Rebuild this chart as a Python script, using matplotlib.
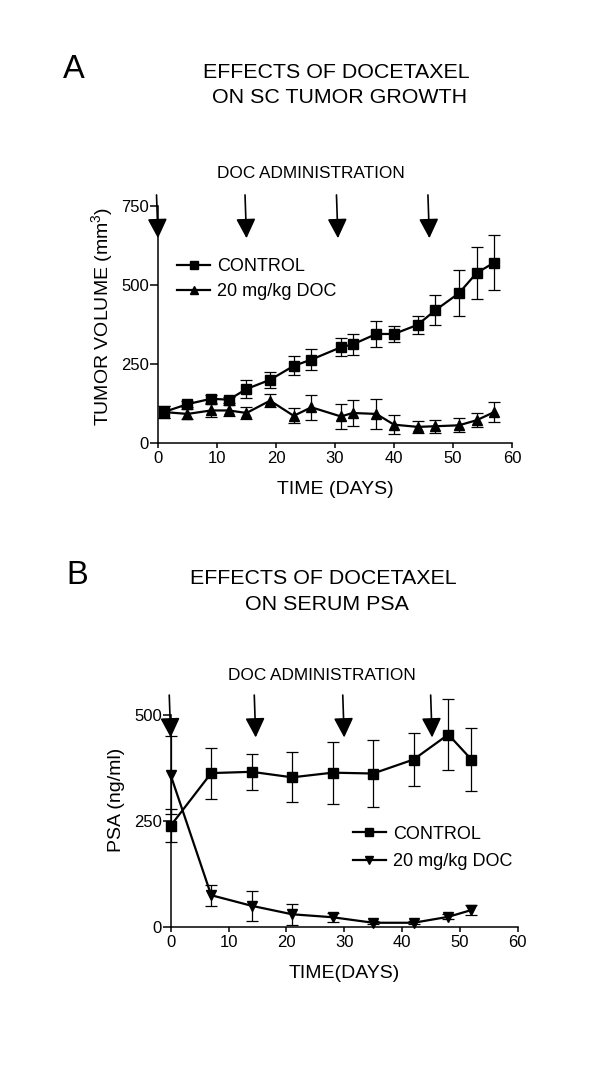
import matplotlib
matplotlib.use("Agg")
import matplotlib.pyplot as plt
from matplotlib.lines import Line2D

plt.rcParams['font.family'] = ['Liberation Sans', 'DejaVu Sans']
plt.rcParams['mathtext.default'] = 'regular'

# Panel A data
a_days_ctrl = [1, 5, 9, 12, 15, 19, 23, 26, 31, 33, 37, 40, 44, 47, 51, 54, 57]
a_ctrl = [98, 123, 140, 137, 171, 200, 244, 264, 303, 312, 345, 345, 374, 420, 474, 538, 571]
a_ctrl_err = [18, 10, 12, 10, 28, 26, 30, 34, 29, 32, 42, 26, 28, 48, 73, 83, 87]
a_days_doc = [1, 5, 9, 12, 15, 19, 23, 26, 31, 33, 37, 40, 44, 47, 51, 54, 57]
a_doc = [98, 92, 103, 103, 95, 134, 86, 113, 84, 95, 92, 58, 51, 53, 56, 72, 98]
a_doc_err = [20, 15, 20, 18, 20, 20, 24, 40, 40, 40, 48, 30, 20, 20, 22, 22, 32]
a_arrows = [0, 15, 30.5, 46]

# Panel B data
b_days_ctrl = [0, 7, 14, 21, 28, 35, 42, 48, 52]
b_ctrl = [239, 363, 366, 353, 364, 362, 395, 454, 395]
b_ctrl_err = [39, 60, 42, 59, 73, 79, 63, 84, 74]
b_days_doc = [0, 7, 14, 21, 28, 35, 42, 48, 52]
b_doc = [358, 75, 50, 30, 23, 10, 10, 24, 40]
b_doc_err = [92, 25, 36, 25, 11, 4, 4, 6, 12]
b_arrows = [0, 14.7, 30, 45.2]

legend_labels = ['CONTROL', '20 mg/kg DOC']

fig = plt.figure(figsize=(6, 10.68), dpi=100)

def style_ax(ax):
    for s in ['top', 'right']:
        ax.spines[s].set_visible(False)
    for s in ['left', 'bottom']:
        ax.spines[s].set_linewidth(1.1)
    ax.tick_params(axis='x', direction='out', width=1.1, length=3.5, labelsize=12, pad=2)
    ax.tick_params(axis='y', direction='out', width=1.1, length=6, labelsize=12, pad=0.5)

def draw_arrows(ax, xs, top, tip):
    for x in xs:
        ax.annotate('', xy=(x, tip), xytext=(x - 0.25, top),
                    arrowprops=dict(arrowstyle='-|>,head_length=12,head_width=6',
                                    mutation_scale=1, lw=1.2, color='black',
                                    shrinkA=0, shrinkB=0),
                    annotation_clip=False)

eb_kw = dict(color='black', lw=1.6, elinewidth=0.9, capsize=4.3, capthick=0.9, clip_on=False)

# Panel A
axA = fig.add_axes([158 / 600, 1 - 443 / 1068, 354 / 600, 237 / 1068])
style_ax(axA)
axA.errorbar(a_days_ctrl, a_ctrl, yerr=a_ctrl_err, marker='s', markersize=7.2, **eb_kw)
axA.errorbar(a_days_doc, a_doc, yerr=a_doc_err, marker='^', markersize=7, **eb_kw)
axA.set_xlim(0, 60)
axA.set_ylim(0, 750)
axA.set_xticks([0, 10, 20, 30, 40, 50, 60])
axA.set_yticks([0, 250, 500, 750])
axA.set_xlabel('TIME (DAYS)', fontsize=14, labelpad=11)
axA.set_ylabel('TUMOR VOLUME (mm$^{3}$)', fontsize=14)
axA.yaxis.set_label_coords(-0.121, 0.534)
draw_arrows(axA, a_arrows, 785, 648)
hA = [Line2D([], [], color='black', lw=1.6, marker='s', markersize=6),
      Line2D([], [], color='black', lw=1.6, marker='^', markersize=6)]
axA.legend(hA, legend_labels, loc='center left', bbox_to_anchor=(0.054, 0.692), frameon=False,
           fontsize=13, handlelength=1.83, handletextpad=0.39, labelspacing=0.46,
           borderaxespad=0, borderpad=0)

# Panel B
axB = fig.add_axes([170.7 / 600, 1 - 927 / 1068, 347 / 600, 212 / 1068])
style_ax(axB)
axB.errorbar(b_days_ctrl, b_ctrl, yerr=b_ctrl_err, marker='s', markersize=7.6, **eb_kw)
axB.errorbar(b_days_doc, b_doc, yerr=b_doc_err, marker='v', markersize=7, **eb_kw)
axB.set_xlim(0, 60)
axB.set_ylim(0, 500)
axB.set_xticks([0, 10, 20, 30, 40, 50, 60])
axB.set_yticks([0, 250, 500])
axB.set_xlabel('TIME(DAYS)', fontsize=14, labelpad=11)
axB.set_ylabel('PSA (ng/ml)', fontsize=14)
axB.yaxis.set_label_coords(-0.132, 0.6)
draw_arrows(axB, b_arrows, 547, 447)
hB = [Line2D([], [], color='black', lw=1.6, marker='s', markersize=6),
      Line2D([], [], color='black', lw=1.6, marker='v', markersize=6)]
axB.legend(hB, legend_labels, loc='center left', bbox_to_anchor=(0.525, 0.373), frameon=False,
           fontsize=13, handlelength=1.83, handletextpad=0.39, labelspacing=0.57,
           borderaxespad=0, borderpad=0)

# Texts
fig.text(74 / 600, 1 - 70 / 1068, 'A', fontsize=23.5, ha='center', va='center')
fig.text(336.5 / 600, 1 - 72.5 / 1068, 'EFFECTS OF DOCETAXEL', fontsize=15.4, ha='center', va='center')
fig.text(339.5 / 600, 1 - 97.5 / 1068, 'ON SC TUMOR GROWTH', fontsize=15.4, ha='center', va='center')
fig.text(311 / 600, 1 - 173.5 / 1068, 'DOC ADMINISTRATION', fontsize=12.4, ha='center', va='center')

fig.text(77 / 600, 1 - 575 / 1068, 'B', fontsize=23.5, ha='center', va='center')
fig.text(323 / 600, 1 - 579 / 1068, 'EFFECTS OF DOCETAXEL', fontsize=15.4, ha='center', va='center')
fig.text(327 / 600, 1 - 604 / 1068, 'ON SERUM PSA', fontsize=15.4, ha='center', va='center')
fig.text(322 / 600, 1 - 676 / 1068, 'DOC ADMINISTRATION', fontsize=12.4, ha='center', va='center')

fig.savefig('out.png', dpi=100)
